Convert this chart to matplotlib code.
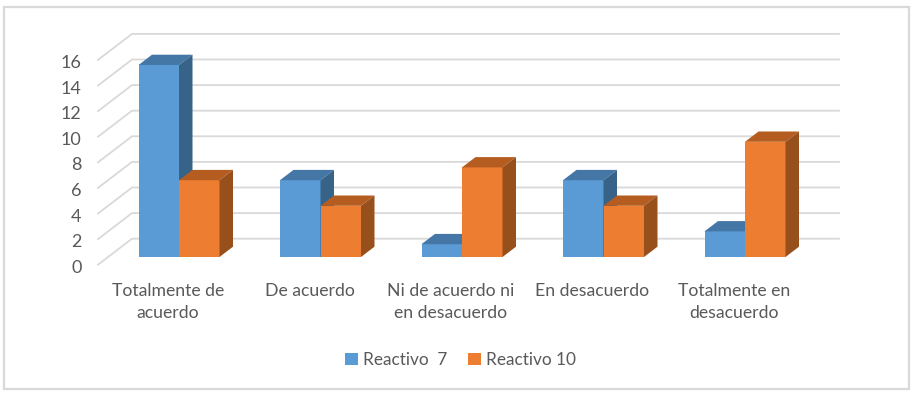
import matplotlib.pyplot as plt
from matplotlib.patches import Polygon, Rectangle

categorias = ["Totalmente de\nacuerdo", "De acuerdo", "Ni de acuerdo ni\nen desacuerdo", "En desacuerdo", "Totalmente en\ndesacuerdo"]
reactivo_7 = [15, 6, 1, 6, 2]
reactivo_10 = [6, 4, 7, 4, 9]
ticks_y = [0, 2, 4, 6, 8, 10, 12, 14, 16]

plt.rcParams['font.family'] = ['Lato', 'DejaVu Sans']

# escalas en pixeles de la imagen
W, H = 911, 396
px_x = 141.5   # pixeles por categoria
px_y = 12.8    # pixeles por unidad
x0 = 179       # pixel de la categoria 0
y0 = 257       # pixel del valor 0 en el plano frontal

fig = plt.figure(figsize=(W / 100, H / 100), dpi=100)
ax = fig.add_axes([0, 0, 1, 1])
ax.set_xlim(-x0 / px_x, (W - x0) / px_x)
ax.set_ylim((y0 - H) / px_y, y0 / px_y)
ax.axis("off")

# marco
ax.add_patch(Rectangle((4 / W, 1 - 389 / H), 905 / W, 382 / H, transform=ax.transAxes,
                       fill=False, edgecolor="#d9d9d9", lw=1.6))

# grid, pared del fondo y piso lateral
fx = -81 / px_x      # frente izquierdo
bx = -47 / px_x      # fondo izquierdo
ex = 660 / px_x      # fondo derecho
fy = -7.7 / px_y     # desplazamiento del frente
by = 18.3 / px_y     # desplazamiento del fondo
for t in ticks_y:
    ax.plot([fx, bx, ex], [t + fy, t + by, t + by], color="#d9d9d9", lw=1.3, zorder=1, solid_joinstyle="miter")
    ax.text(fx - 16.5 / px_x, t + fy - 3 / px_y, str(t), ha="right", va="center", fontsize=13, color="#595959")

# barras 3d
ancho = 40.5 / px_x
dx = 13.5 / px_x
dy = 10.3 / px_y


def barras(pos, valores, cara, arriba, lado, z):
    b = ax.bar(pos, valores, width=ancho, align="edge", color=cara, linewidth=0, zorder=z)
    for p, v in zip(pos, valores):
        ax.add_patch(Polygon([(p, v), (p + dx, v + dy), (p + ancho + dx, v + dy), (p + ancho, v)],
                             facecolor=arriba, edgecolor="none", zorder=z))
        ax.add_patch(Polygon([(p + ancho, 0), (p + ancho + dx, dy), (p + ancho + dx, v + dy), (p + ancho, v)],
                             facecolor=lado, edgecolor="none", zorder=z))
    return b


pos = list(range(len(categorias)))
b1 = barras([p - ancho for p in pos], reactivo_7, "#5b9bd5", "#4477a6", "#376389", 3)
b2 = barras(pos, reactivo_10, "#ed7d31", "#b55c20", "#97501b", 4)

# etiquetas de categorias
for p, c in zip(pos, categorias):
    ax.text(p - 11 / px_x, -26.5 / px_y, c, ha="center", va="top", fontsize=12.7, color="#595959", linespacing=1.45)

ax.legend([b1, b2], ["Reactivo  7", "Reactivo 10"], ncols=2, frameon=False, loc="center",
          bbox_to_anchor=(460.5 / W, 1 - 360 / H), fontsize=12.4, labelcolor="#595959",
          handlelength=0.78, handleheight=0.78, handletextpad=0.3, columnspacing=1.15, borderpad=0)

fig.savefig("out.png", dpi=100, facecolor="white")
